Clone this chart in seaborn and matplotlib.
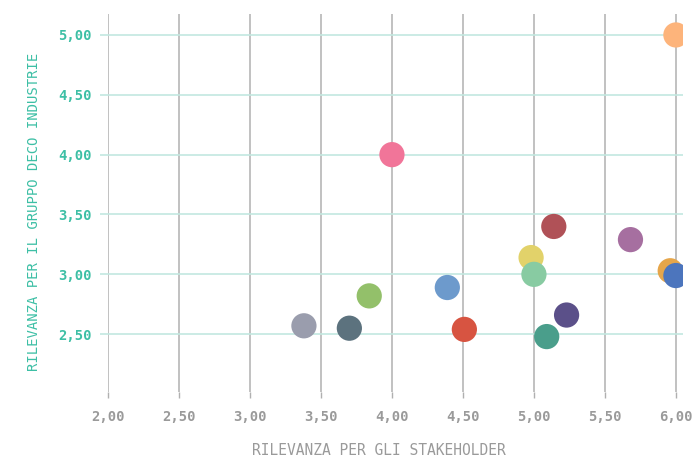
import matplotlib
matplotlib.use("Agg")
import matplotlib.pyplot as plt
import seaborn as sns
import pandas as pd
from matplotlib.ticker import FuncFormatter

sns.set_theme(style="white")
plt.rcParams["font.family"] = ["DejaVu Sans Mono", "DejaVu Sans"]

# values
topics = ["T1", "T2", "T3", "T4", "T5", "T6", "T7", "T8",
          "T9", "T10", "T11", "T12", "T13", "T14", "T15"]
stakeholder = [6.00, 4.00, 5.14, 5.68, 4.98, 5.00, 5.96, 6.00,
               4.39, 3.84, 3.38, 3.70, 4.51, 5.23, 5.09]
gruppo = [5.00, 4.00, 3.40, 3.29, 3.14, 3.00, 3.03, 2.99,
          2.89, 2.82, 2.57, 2.55, 2.54, 2.66, 2.48]
colors = ["#FDB47B", "#F17599", "#B05157", "#A66FA0", "#E2D26A",
          "#88CBA2", "#E6A64A", "#4C75BD", "#6D9ACC", "#93C06A",
          "#9A9DAD", "#5C727E", "#D75441", "#5B5089", "#4A9E8B"]

df = pd.DataFrame({"topic": topics, "x": stakeholder, "y": gruppo})

TEAL = "#3DBFA5"
GREY = "#9A9A9A"

fig = plt.figure(figsize=(6.93, 4.57), dpi=100)
ax = fig.add_axes([108 / 693, 1 - 392 / 457, 575 / 693, 378 / 457])

# grid: grey verticals, light teal horizontals
for xv in [2.0, 2.5, 3.0, 3.5, 4.0, 4.5, 5.0, 5.5, 6.0]:
    ax.axvline(xv, color="#B0B0B0", lw=1.1, zorder=1)
for yv in [2.5, 3.0, 3.5, 4.0, 4.5, 5.0]:
    ax.axhline(yv, color="#C2E8E0", lw=1.2, zorder=1)

sns.scatterplot(data=df, x="x", y="y", hue="topic", palette=colors,
                s=330, linewidth=0, alpha=1, legend=False, ax=ax, zorder=3)

ax.set_xlim(2.0, 6.05)
ax.set_ylim(2.017, 5.175)
ax.set_xticks([2.0, 2.5, 3.0, 3.5, 4.0, 4.5, 5.0, 5.5, 6.0])
ax.set_yticks([2.5, 3.0, 3.5, 4.0, 4.5, 5.0])
fmt = FuncFormatter(lambda v, p: f"{v:.2f}".replace(".", ","))
ax.xaxis.set_major_formatter(fmt)
ax.yaxis.set_major_formatter(fmt)

for s in ["top", "right", "bottom", "left"]:
    ax.spines[s].set_visible(False)

ax.tick_params(axis="x", colors="#B0B0B0", labelcolor=GREY, length=4, width=1,
               labelsize=10, pad=9, bottom=True)
ax.tick_params(axis="y", colors="#C2E8E0", labelcolor=TEAL, length=6, width=1.2,
               labelsize=10, pad=6, left=True)
for lab in ax.get_xticklabels() + ax.get_yticklabels():
    lab.set_fontweight("bold")

ax.set_xlabel("RILEVANZA PER GLI STAKEHOLDER", color=GREY, fontsize=10.5)
ax.set_ylabel("RILEVANZA PER IL GRUPPO DECO INDUSTRIE", color=TEAL, fontsize=10)
ax.xaxis.set_label_coords(0.471, -0.135)
ax.yaxis.set_label_coords(-0.116, 0.476)

fig.savefig("out.png", dpi=100)
